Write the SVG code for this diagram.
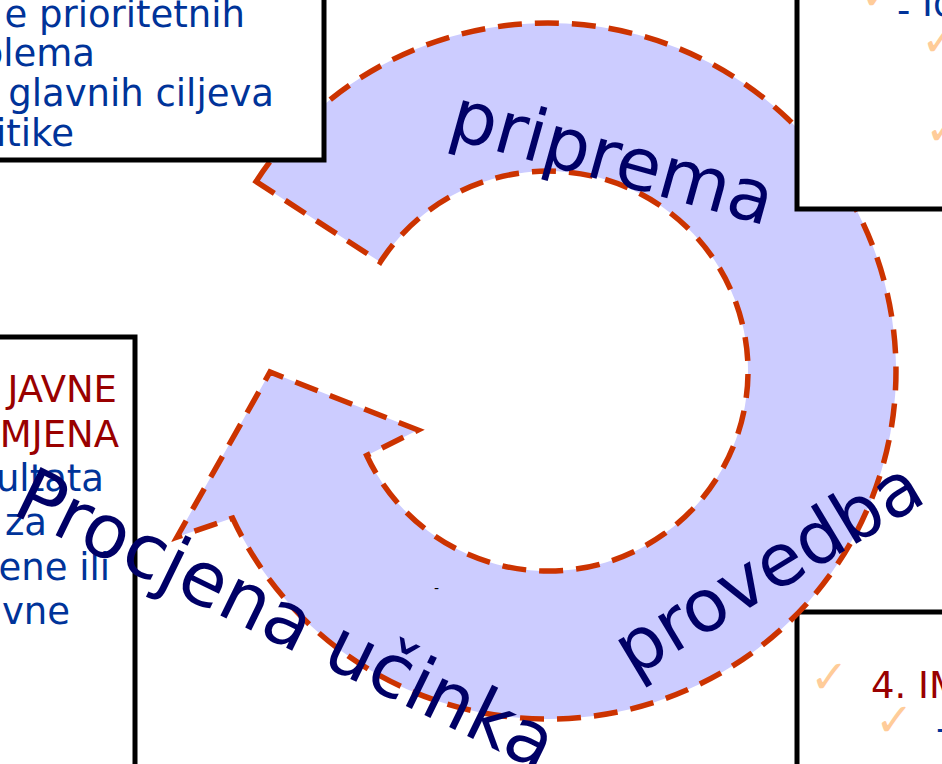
<svg xmlns="http://www.w3.org/2000/svg" width="942" height="764" viewBox="0 0 942 764">
<style>
.box{fill:#fff;stroke:#000;stroke-width:5}
.t{font-family:"DejaVu Sans","Liberation Sans",sans-serif;font-size:37px}
.blue{fill:#003399}
.red{fill:#990000}
.chk{font-family:"DejaVu Sans",sans-serif;font-size:46px;fill:#FFCC99}
.big{font-family:"DejaVu Sans","Liberation Sans",sans-serif;font-size:73px;fill:#000066}
.arrow{fill:#CCCCFF;stroke:#CC3300;stroke-width:5.5;stroke-dasharray:24 13}
</style>
<rect width="942" height="764" fill="#fff"/>
<g id="box-bottom-right">
<rect class="box" x="797" y="612" width="160" height="170"/>
<text class="chk" x="810" y="693">✓</text>
<text class="t red" x="871" y="698">4. IM</text>
<text class="chk" x="875" y="736">✓</text>
<text class="t blue" x="936" y="741">-</text>
</g>
<g id="cycle-arrow">
<path class="arrow" d="M 256.1 181.5 A 348 348 0 1 1 232.6 518.1 L 177 537 L 270 372 L 418 430 L 366.7 455.5 A 200 200 0 1 0 380.3 262.1 Z"/>
<text x="434" y="593" font-family="DejaVu Sans, sans-serif" font-size="14" fill="#000">-</text>
</g>
<g id="box-top-left">
<rect class="box" x="-10" y="-10" width="334" height="170"/>
<text class="t blue" text-anchor="end" x="245" y="27">e prioritetnih</text>
<text class="t blue" text-anchor="end" x="95" y="66">blema</text>
<text class="t blue" text-anchor="end" x="274" y="106">glavnih ciljeva</text>
<text class="t blue" text-anchor="end" x="74" y="146">itike</text>
</g>
<g id="box-top-right">
<rect class="box" x="797" y="-10" width="160" height="219"/>
<text class="chk" x="860" y="10">✓</text>
<text class="t blue" x="897" y="16"><tspan y="23">-</tspan><tspan y="16"> Id</tspan></text>
<text class="chk" x="921" y="56">✓</text>
<text class="chk" x="925" y="145">✓</text>
</g>
<g id="box-left">
<rect class="box" x="-10" y="337" width="145" height="440"/>
<text class="t red" text-anchor="end" x="117" y="402">JAVNE</text>
<text class="t red" text-anchor="end" x="119" y="447">MJENA</text>
<text class="t blue" text-anchor="end" x="104" y="491">ultata</text>
<text class="t blue" text-anchor="end" x="47" y="535">za</text>
<text class="t blue" text-anchor="end" x="110" y="580">ene ili</text>
<text class="t blue" text-anchor="end" x="70" y="624">vne</text>
</g>
<g id="labels">
<text class="big" transform="translate(446,137) rotate(15.5)">priprema</text>
<text class="big" transform="translate(633,678) rotate(-31)">provedba</text>
<text class="big" font-size="75" style="font-size:75px" transform="translate(10,513) rotate(26)">Procjena učinka</text>
</g>
</svg>
